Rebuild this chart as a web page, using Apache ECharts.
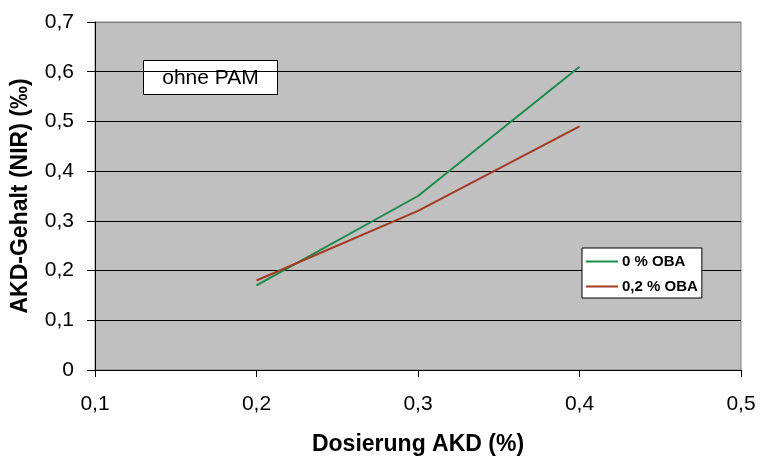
<!DOCTYPE html>
<html><head><meta charset="utf-8">
<script src="https://cdn.jsdelivr.net/npm/echarts@6/dist/echarts.min.js"></script>
<style>html,body{margin:0;padding:0;background:#fff}#c{width:760px;height:457px}</style>
</head><body><div id="c"></div>
<script>
const dosierung = [0.2, 0.3, 0.4];
const oba0 = [0.17, 0.35, 0.61];
const oba02 = [0.18, 0.32, 0.49];
const seriesNames = ['0 % OBA', '0,2 % OBA'];
const xTitle = 'Dosierung AKD (%)';
const yTitle = 'AKD-Gehalt (NIR) (‰)';
const boxLabel = 'ohne PAM';

const font = 'Liberation Sans, Arial, sans-serif';
const fmt = v => v === 0 ? '0' : (+v).toFixed(1).replace('.', ',');
const chart = echarts.init(document.getElementById('c'));
chart.setOption({
  animation: false,
  grid: {left: 95, right: 19, top: 22, bottom: 87, containLabel: false, outerBoundsMode: 'none', show: true, backgroundColor: '#c0c0c0', borderColor: '#808080', borderWidth: 1},
  xAxis: {
    type: 'value', min: 0.1, max: 0.5, interval: 0.1,
    name: xTitle, nameLocation: 'middle', nameGap: 63,
    nameTextStyle: {fontFamily: font, fontSize: 23, fontWeight: 'bold', color: '#000'},
    axisLine: {show: true, lineStyle: {color: '#000', width: 1}},
    axisTick: {show: true, length: 7, lineStyle: {color: '#000'}},
    axisLabel: {formatter: fmt, fontFamily: font, fontSize: 21, color: '#000', margin: 24},
    splitLine: {show: false}
  },
  yAxis: {
    type: 'value', min: 0, max: 0.7, interval: 0.1,
    name: yTitle, nameLocation: 'middle', nameGap: 63,
    nameTextStyle: {fontFamily: font, fontSize: 23, fontWeight: 'bold', color: '#000'},
    axisLine: {show: true, lineStyle: {color: '#000', width: 1}},
    axisTick: {show: true, length: 8, lineStyle: {color: '#000'}},
    axisLabel: {formatter: fmt, fontFamily: font, fontSize: 21, color: '#000', margin: 21},
    splitLine: {show: true, lineStyle: {color: ['#000', '#000', '#000', '#000', '#000', '#000', '#000', '#808080'], width: 1}}
  },
  legend: {
    data: seriesNames, orient: 'vertical', left: 582, top: 248,
    backgroundColor: '#fff', borderColor: '#000', borderWidth: 1,
    padding: [6, 4, 4, 4], itemGap: 10, itemWidth: 32, itemHeight: 2, icon: 'rect',
    textStyle: {fontFamily: font, fontSize: 15, fontWeight: 'bold', color: '#000', lineHeight: 15, padding: [0, 0, 0, -1]}
  },
  graphic: [{
    type: 'group', left: 143, top: 60,
    children: [
      {type: 'rect', shape: {x: 0, y: 0, width: 134, height: 34}, style: {fill: '#fff', stroke: '#000', lineWidth: 1}},
      {type: 'text', x: 67, y: 18, style: {text: boxLabel, fontFamily: font, fontSize: 21, fill: '#000', align: 'center', verticalAlign: 'middle'}}
    ]
  }],
  series: [
    {name: seriesNames[0], type: 'line', data: dosierung.map((x, i) => [x, oba0[i]]), showSymbol: false, lineStyle: {color: '#1a8a4a', width: 2}, itemStyle: {color: '#1a8a4a'}},
    {name: seriesNames[1], type: 'line', data: dosierung.map((x, i) => [x, oba02[i]]), showSymbol: false, lineStyle: {color: '#a33a22', width: 2}, itemStyle: {color: '#a33a22'}}
  ]
});
</script></body></html>
